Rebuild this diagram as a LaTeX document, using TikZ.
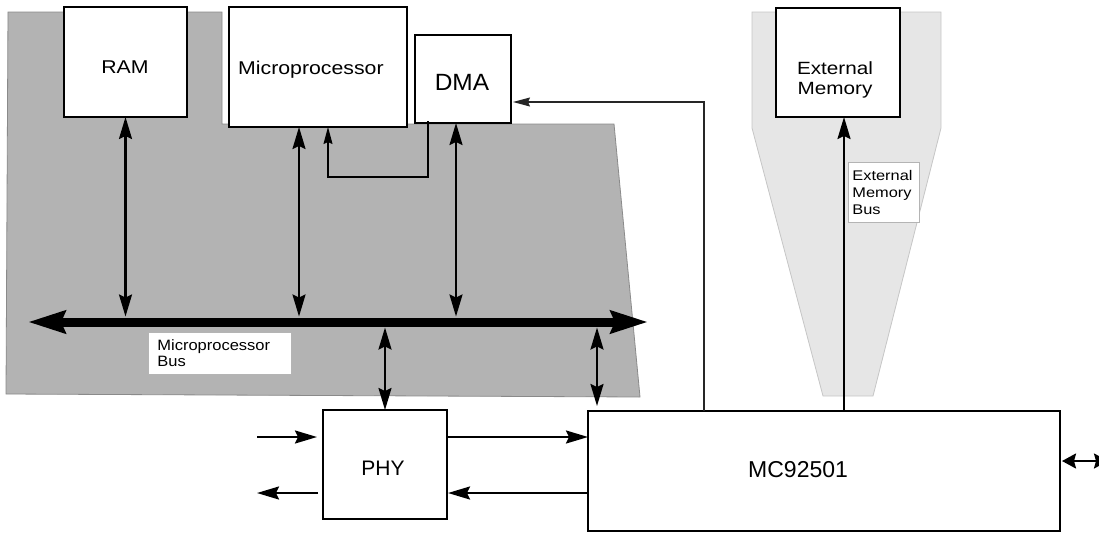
\documentclass[tikz,border=0pt]{standalone}
\usepackage{fontspec}
\setmainfont{Liberation Sans}
\usepackage{graphicx}
\usetikzlibrary{arrows.meta,calc}
\newcommand\wide[2][1.15]{\scalebox{#1}[1]{#2}}
\definecolor{bggray}{HTML}{B3B3B3}
\definecolor{bgedge}{HTML}{8A8A8A}
\definecolor{ltgray}{HTML}{E6E6E6}
\definecolor{ltedge}{HTML}{C6C6C6}
\definecolor{lbledge}{HTML}{B4B4B4}
\begin{document}
\begin{tikzpicture}[x=1pt,y=-1pt,
  box/.style={draw=black, line width=2.6pt, fill=white, inner sep=0pt, outer sep=0pt, anchor=north west},
  txt/.style={inner sep=0pt, anchor=base},
  lbl/.style={draw=lbledge, line width=0.8pt, fill=white, anchor=north west, align=left, inner ysep=0pt},
  hd/.tip={Stealth[length=22pt,width=13pt,inset=3pt]},
  bushd/.tip={Stealth[length=37pt,width=22pt,inset=4pt]},
  thd/.tip={Stealth[length=17pt,width=9pt,inset=2pt]},
  smhd/.tip={Stealth[length=14pt,width=15pt,inset=2pt]},
  dbl/.style={line width=2.2pt, hd-hd},
  single/.style={line width=2.2pt, -hd},
  thinarrow/.style={line width=1.1pt, -thd}]
\useasboundingbox (0,0) rectangle (1099,533);

% background regions
\draw[fill=bggray, draw=bgedge, line width=0.8pt]
  (8,12) -- (222,12) -- (222,124) -- (614,124) -- (640,397) -- (6,394) -- cycle;
\draw[fill=ltgray, draw=ltedge, line width=0.8pt]
  (752,12) -- (941,12) -- (941,128) -- (873,396) -- (823,396) -- (752,128) -- cycle;

% boxes
\node[box, minimum width=123pt, minimum height=110pt] (ram) at (64,7) {};
\node[box, minimum width=178pt, minimum height=120pt] (micro) at (229,7) {};
\node[box, minimum width=96pt, minimum height=88pt] (dma) at (415,35) {};
\node[box, minimum width=124pt, minimum height=109pt] (extmem) at (776,8) {};
\node[box, minimum width=124pt, minimum height=109pt] (phy) at (323,410) {};
\node[box, minimum width=472pt, minimum height=120pt] (mc) at (588,411) {};

% texts
\node[txt, font=\fontsize{18.5}{22}\selectfont] (ramtxt) at (125,73.5) {\wide{RAM}};
\node[txt, anchor=base west, font=\fontsize{18.5}{22}\selectfont] (microtxt) at (238,74) {\wide{Microprocessor}};
\node[txt, font=\fontsize{23.5}{28}\selectfont] (dmatxt) at (462,90) {\wide[1.04]{DMA}};
\node[inner sep=0pt, align=center, font=\fontsize{17.7}{20}\selectfont] (extmemtxt) at (835,80.4) {\wide[1.17]{External}\\\wide[1.17]{Memory}};
\node[txt, font=\fontsize{21}{25}\selectfont] (phytxt) at (383,475) {PHY};
\node[txt, anchor=base west, font=\fontsize{23}{27}\selectfont] (mctxt) at (748,477) {MC92501};

% bus
\coordinate (busL) at (28,322);
\coordinate (busR) at (648,322);
\coordinate (bt) at (0,316.5);
\coordinate (bb) at (0,327.5);
\draw[line width=9pt, bushd-bushd] (busL) -- (busR);

% bus labels
\node[lbl, inner xsep=9pt, text width=125pt, minimum height=42pt, font=\fontsize{15}{15.7}\selectfont] (mbus) at (148,332)
  {\wide[1.1]{Microprocessor}\\\wide[1.1]{Bus}};
\node[lbl, inner xsep=4pt, text width=63pt, minimum height=60pt, font=\fontsize{14}{16.7}\selectfont] (ebus) at (848,162)
  {\wide[1.17]{External}\\\wide[1.17]{Memory}\\\wide[1.17]{Bus}};

% vertical bus connections
\path ($(micro.south west)+(70,0)$) coordinate (mA);
\path ($(dma.south west)+(41,0)$) coordinate (dA);
\path ($(mc.north west)+(9,0)$) coordinate (cA);
\draw[dbl] (ram.south) -- (ram.south |- bt);
\draw[dbl] (mA) -- (mA |- bt);
\draw[dbl] (dA) -- (dA |- bt);
\draw[dbl] (bb -| phy.north) -- (phy.north);
\draw[dbl] (bb -| cA) -- ([yshift=5pt]cA);

% DMA to microprocessor
\draw[thinarrow] ($(dma.south west)+(13,-2)$) -- ++(0,56) -| ($(micro.south west)+(99,0)$);

% MC92501 to DMA
\draw[thinarrow, draw=black!85] ($(mc.north west)+(116,0)$) |- ($(dma.north east)+(2,67)$);

% external memory bus
\path ($(mc.north west)+(256,0)$) coordinate (eA);
\draw[single] (eA) -- (eA |- extmem.south);

% PHY connections
\coordinate (inA) at (257,437);
\coordinate (inB) at (317,437);
\coordinate (outA) at (318,493);
\coordinate (outB) at (257,493);
\draw[single] (inA) -- (inB);
\draw[single] (outA) -- (outB);
\draw[single] (phy.east |- inA) -- (mc.west |- inA);
\draw[single] (mc.west |- outA) -- ([xshift=1pt]phy.east |- outA);

% right side
\coordinate (rB) at (1108,461);
\draw[line width=2.2pt, smhd-smhd] ([xshift=2pt]mc.east |- rB) -- (rB);
\end{tikzpicture}
\end{document}
